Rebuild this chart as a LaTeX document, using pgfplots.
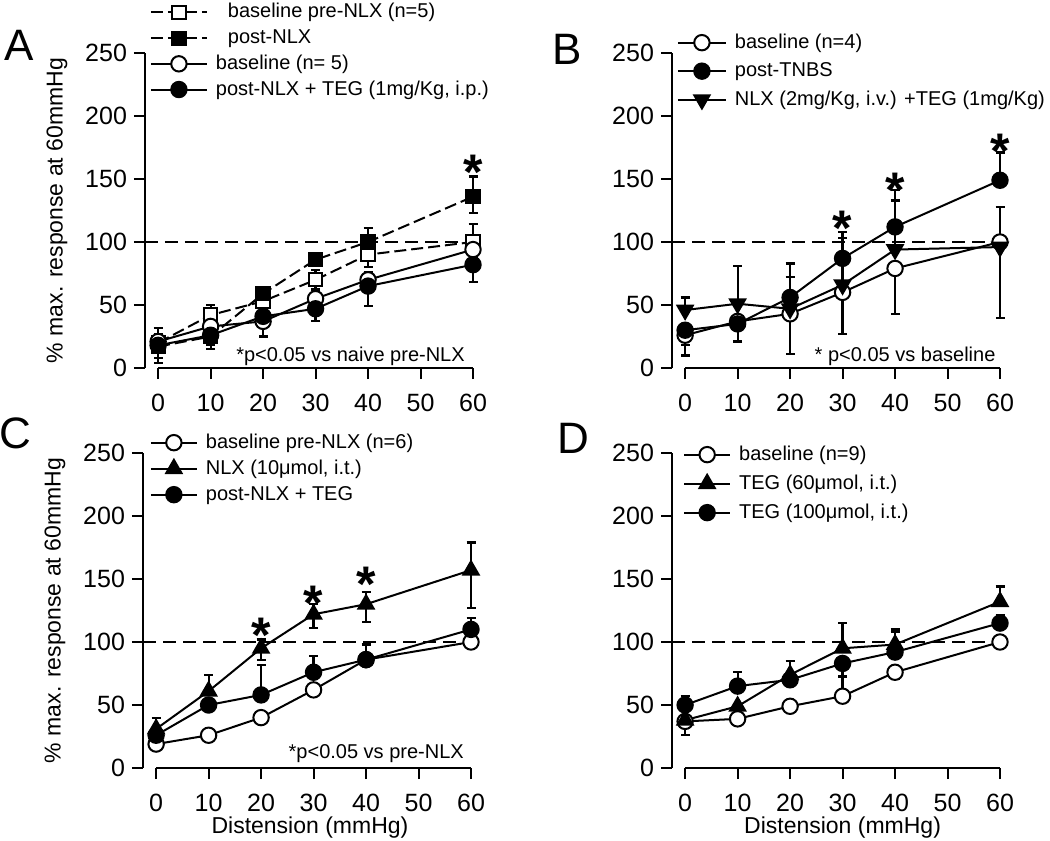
\documentclass[border=0pt]{standalone}
\usepackage{pgfplots}
\pgfplotsset{compat=1.18}
\usepackage{fontspec}
\setmainfont{Liberation Sans}

\pgfplotsset{
  panel/.style={
    scale only axis, width=164pt, height=157.5pt,
    xmin=-2.5, xmax=60, ymin=0, ymax=250,
    axis x line=bottom, axis y line=left,
    x axis line style={draw=none},
    y axis line style={-, line width=1pt},
    xtick={0,10,20,30,40,50,60}, ytick={0,50,100,150,200,250},
    tick align=outside, major tick length=5.5pt,
    every tick/.style={black, line width=1pt},
    clip=false,
    tick label style={font=\fontsize{12.5}{14}\selectfont},
    xticklabel style={yshift=-3.8pt},
    /pgf/number format/assume math mode=true,
    legend cell align=left,
    legend style={draw=none, fill=none, inner sep=0pt, outer sep=0pt, anchor=north west,
      font=\fontsize{10}{12}\selectfont, nodes={inner sep=0pt, text height=7.5pt, text depth=2pt},
      column sep=4pt},
    every axis plot/.append style={black, line width=1pt},
    every axis label/.append style={font=\fontsize{11.5}{13}\selectfont, inner sep=0pt},
  },
  eb/.style={error bars/y dir=both, error bars/y explicit,
    error bars/error bar style={line width=1.1pt, solid},
    error bars/error mark options={rotate=90, mark size=2.25pt, line width=1.1pt, solid}},
  oc/.style={mark=*, mark size=3.85pt, mark options={fill=white, solid}, eb},
  fc/.style={mark=*, mark size=3.85pt, mark options={fill=black, solid}, eb},
  osq/.style={mark=square*, mark size=3.3pt, mark options={fill=white, solid}, dash pattern=on 6pt off 2.5pt, eb},
  fsq/.style={mark=square*, mark size=3.3pt, mark options={fill=black, solid}, dash pattern=on 6pt off 2.5pt, eb},
  tu/.style={mark=triangle*, mark size=4.4pt, mark options={fill=black, solid}, eb},
  td/.style={mark=triangle*, mark size=4.4pt, mark options={fill=black, solid, rotate=180}, eb},
  refl/.style={black, line width=1pt, dash pattern=on 6.5pt off 3.5pt, forget plot},
}
\newcommand{\sigast}[2]{\node[anchor=north, inner sep=0pt, font=\fontsize{25}{25}\selectfont\bfseries] at (axis cs:#1,#2) {*};}
\newcommand{\xline}{\draw[line width=1pt] (axis cs:0,0) -- (axis cs:60,0);}

\begin{document}
\begin{tikzpicture}
\useasboundingbox (0pt,0pt) rectangle (525pt,-420.5pt);

% ---------------- Panel A ----------------
\begin{axis}[panel, at={(72.5pt,-184pt)}, anchor=south west,
  ylabel={\% max. response at 60mmHg},
  ylabel style={at={(axis description cs:-0.268,0.5)}, anchor=center},
  legend style={at={(axis description cs:0.015,1.159)}, row sep=3.35pt},
  legend image code/.code={\draw[mark repeat=2,mark phase=2,#1] plot coordinates {(0pt,0pt) (14pt,0pt) (28pt,0pt)};}]
\addplot[refl] coordinates {(-2.5,100) (60,100)};
\addplot[osq] table[x=x,y=y,y error plus=ep,y error minus=em] {
x y ep em
0 20 12 12
10 42 8 8
20 53 6 6
30 70 8 8
40 90 10 10
60 100 14 14
};
\addlegendentry{\hspace{6pt}baseline pre-NLX (n=5)}
\addplot[fsq] table[x=x,y=y,y error plus=ep,y error minus=em] {
x y ep em
0 17 0 13
10 25 0 10
20 59 5 5
30 86 5 5
40 100 11 8
60 136 16 13
};
\addlegendentry{\hspace{6pt}post-NLX}
\addplot[oc] table[x=x,y=y,y error plus=ep,y error minus=em] {
x y ep em
0 21 6 6
10 33 8 8
20 37 6 12
30 55 8 8
40 70 6 6
60 94 6 6
};
\addlegendentry{baseline (n= 5)}
\addplot[fc] table[x=x,y=y,y error plus=ep,y error minus=em] {
x y ep em
0 18 6 6
10 26 6 8
20 41 6 16
30 47 6 10
40 65 6 16
60 82 6 14
};
\addlegendentry{post-NLX + TEG (1mg/Kg, i.p.)}
\xline
\sigast{60}{169}
\node[anchor=base east, inner sep=0pt, font=\fontsize{10}{12}\selectfont] at (axis cs:58.5,5) {*p<0.05 vs naive pre-NLX};
\node[font=\fontsize{22}{22}\selectfont] at (axis description cs:-0.384,1.025) {A};
\end{axis}

% ---------------- Panel B ----------------
\begin{axis}[panel, at={(336pt,-184pt)}, anchor=south west,
  legend style={at={(axis description cs:0.015,1.063)}, row sep=4.75pt},
  legend image code/.code={\draw[mark repeat=2,mark phase=2,#1] plot coordinates {(0pt,0pt) (12pt,0pt) (24pt,0pt)};}]
\addplot[refl] coordinates {(-2.5,100) (60,100)};
\addplot[oc] table[x=x,y=y,y error plus=ep,y error minus=em] {
x y ep em
0 26 0 16
10 37 0 0
20 43 0 32
30 60 0 33
40 79 0 36
60 100 0 60
};
\addlegendentry{baseline (n=4)}
\addplot[fc] table[x=x,y=y,y error plus=ep,y error minus=em] {
x y ep em
0 30 0 12
10 35 0 14
20 56 27 0
30 87 21 0
40 112 29 0
60 149 22 0
};
\addlegendentry{post-TNBS}
\addplot[td] table[x=x,y=y,y error plus=ep,y error minus=em] {
x y ep em
0 46 10 0
10 51 30 0
20 47 25 0
30 66 37 0
40 94 39 0
60 96 32 0
};
\addlegendentry{NLX (2mg/Kg, i.v.) +TEG (1mg/Kg)}
\xline
\sigast{30}{125}
\sigast{40}{155}
\sigast{60}{186}
\node[anchor=base east, inner sep=0pt, font=\fontsize{10}{12}\selectfont] at (axis cs:59.2,5) {* p<0.05 vs baseline};
\node[font=\fontsize{22}{22}\selectfont] at (axis description cs:-0.32,1.01) {B};
\end{axis}

% ---------------- Panel C ----------------
\begin{axis}[panel, at={(71.5pt,-384pt)}, anchor=south west,
  ylabel={\% max. response at 60mmHg},
  ylabel style={at={(axis description cs:-0.268,0.5)}, anchor=center},
  xlabel={Distension (mmHg)},
  xlabel style={at={(axis description cs:0.509,-0.19)}, anchor=center},
  legend style={at={(axis description cs:0.021,1.063)}, row sep=3.5pt},
  legend image code/.code={\draw[mark repeat=2,mark phase=2,#1] plot coordinates {(0pt,0pt) (11.5pt,0pt) (23pt,0pt)};}]
\addplot[refl] coordinates {(-2.5,100) (60,100)};
\addplot[oc] table[x=x,y=y,y error plus=ep,y error minus=em] {
x y ep em
0 19 0 0
10 26 0 0
20 40 0 0
30 62 0 0
40 86 0 0
60 100 0 0
};
\addlegendentry{baseline pre-NLX (n=6)}
\addplot[tu] table[x=x,y=y,y error plus=ep,y error minus=em] {
x y ep em
0 31 9 0
10 61 13 0
20 95 7 9
30 122 8 11
40 130 10 14
60 157 22 30
};
\addlegendentry{NLX (10μmol, i.t.)}
\addplot[fc] table[x=x,y=y,y error plus=ep,y error minus=em] {
x y ep em
0 26 0 0
10 50 0 0
20 58 24 0
30 76 13 0
40 86 12 0
60 110 9 0
};
\addlegendentry{post-NLX + TEG}
\xline
\sigast{20}{119}
\sigast{30}{145}
\sigast{40}{160}
\node[anchor=base east, inner sep=0pt, font=\fontsize{10}{12}\selectfont] at (axis cs:58.7,7.7) {*p<0.05 vs pre-NLX};
\node[font=\fontsize{22}{22}\selectfont] at (axis description cs:-0.39,1.063) {C};
\end{axis}

% ---------------- Panel D ----------------
\begin{axis}[panel, at={(336pt,-384pt)}, anchor=south west,
  xlabel={Distension (mmHg)},
  xlabel style={at={(axis description cs:0.52,-0.19)}, anchor=center},
  legend style={at={(axis description cs:0.034,1.025)}, row sep=5pt},
  legend image code/.code={\draw[mark repeat=2,mark phase=2,#1] plot coordinates {(0pt,0pt) (11.5pt,0pt) (23pt,0pt)};}]
\addplot[refl] coordinates {(-2.5,100) (60,100)};
\addplot[oc] table[x=x,y=y,y error plus=ep,y error minus=em] {
x y ep em
0 37 0 11
10 39 0 4
20 49 0 0
30 57 16 0
40 76 0 5
60 100 0 4
};
\addlegendentry{baseline (n=9)}
\addplot[tu] table[x=x,y=y,y error plus=ep,y error minus=em] {
x y ep em
0 38 0 0
10 49 0 9
20 74 11 0
30 95 20 0
40 98 12 0
60 132 12 0
};
\addlegendentry{TEG (60μmol, i.t.)}
\addplot[fc] table[x=x,y=y,y error plus=ep,y error minus=em] {
x y ep em
0 50 7 0
10 65 11 0
20 70 0 0
30 83 0 11
40 92 16 0
60 115 6 0
};
\addlegendentry{TEG (100μmol, i.t.)}
\xline
\node[font=\fontsize{22}{22}\selectfont] at (axis description cs:-0.30,1.048) {D};
\end{axis}
\end{tikzpicture}
\end{document}
